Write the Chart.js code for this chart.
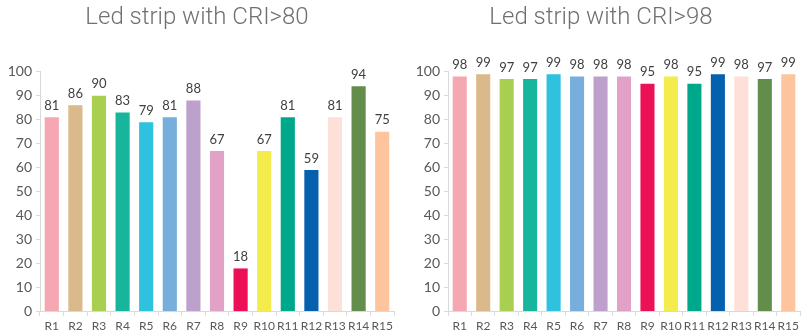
<!DOCTYPE html>
<html>
<head>
<meta charset="utf-8">
<script src="https://cdn.jsdelivr.net/npm/chart.js@4.4.1/dist/chart.umd.min.js"></script>
<style>
  html, body { margin: 0; padding: 0; background: #ffffff; }
  #wrap { position: relative; width: 802px; height: 333px; overflow: hidden; }
  canvas { position: absolute; top: 0; }
  #c1 { left: 0; }
  #c2 { left: 400px; }
</style>
</head>
<body>
<div id="wrap">
  <canvas id="c1" width="400" height="333"></canvas>
  <canvas id="c2" width="402" height="333"></canvas>
</div>
<script>
// Colour rendering index samples R1..R15
const categories = ['R1','R2','R3','R4','R5','R6','R7','R8','R9','R10','R11','R12','R13','R14','R15'];
const cri80Values = [81, 86, 90, 83, 79, 81, 88, 67, 18, 67, 81, 59, 81, 94, 75];
const cri98Values = [98, 99, 97, 97, 99, 98, 98, 98, 95, 98, 95, 99, 98, 97, 99];
const yTicks = [0, 10, 20, 30, 40, 50, 60, 70, 80, 90, 100];
const sampleColors = [
  '#F6A8B2', '#DAB98A', '#A8CF50', '#17B69C', '#2EC2DE',
  '#78AEDC', '#BDA0CB', '#E2A2C8', '#EC1156', '#F4EC4C',
  '#00A88B', '#0560AE', '#FDE0D7', '#628D4B', '#FEC49D'
];

const xTickFont = { family: 'Lato, "Open Sans", sans-serif', size: 12 };
const yTickFont = { family: 'Lato, "Open Sans", sans-serif', size: 14 };
const tickColor = '#595959';
const axisColor = '#d9d9d9';

// Writes each bar's value just above it
const valueLabels = {
  id: 'valueLabels',
  afterDatasetsDraw(chart) {
    const ctx = chart.ctx;
    const meta = chart.getDatasetMeta(0);
    const data = chart.data.datasets[0].data;
    ctx.save();
    ctx.font = '13px Lato, "Open Sans", sans-serif';
    ctx.fillStyle = '#404040';
    ctx.textAlign = 'center';
    ctx.textBaseline = 'bottom';
    meta.data.forEach((bar, i) => {
      ctx.fillText(String(data[i]), bar.x, bar.y - 5);
    });
    ctx.restore();
  }
};

function makeChart(id, title, values, axisWidth, rightPad) {
  return new Chart(document.getElementById(id), {
    type: 'bar',
    data: {
      labels: categories,
      datasets: [{
        data: values,
        backgroundColor: sampleColors,
        borderWidth: 0,
        barPercentage: 0.6,
        categoryPercentage: 1.0,
        clip: false
      }]
    },
    options: {
      responsive: false,
      animation: false,
      events: [],
      layout: { padding: { top: 0, right: rightPad, bottom: -3, left: 0 } },
      plugins: {
        legend: { display: false },
        tooltip: { enabled: false },
        title: {
          display: true,
          text: title,
          color: '#707070',
          font: { family: 'Roboto, "Liberation Sans", sans-serif', size: 24, weight: 300 },
          padding: { top: 4, bottom: 39 }
        }
      },
      scales: {
        x: {
          offset: true,
          grid: {
            offset: true,
            drawOnChartArea: false,
            drawTicks: true,
            tickLength: 4,
            color: axisColor
          },
          border: { display: true, color: axisColor, width: 1 },
          ticks: { color: tickColor, font: xTickFont, padding: 3, maxRotation: 0, autoSkip: false }
        },
        y: {
          min: 0,
          max: 100,
          afterBuildTicks(scale) {
            scale.ticks = yTicks.map(v => ({ value: v }));
          },
          afterFit(scale) { scale.width = axisWidth; },
          grid: {
            drawOnChartArea: false,
            drawTicks: true,
            tickLength: 4,
            color: axisColor
          },
          border: { display: true, color: axisColor, width: 1 },
          ticks: { color: tickColor, font: yTickFont, padding: 4 }
        }
      }
    },
    plugins: [valueLabels]
  });
}

makeChart('c1', 'Led strip with CRI>80', cri80Values, 40, 6);
makeChart('c2', 'Led strip with CRI>98', cri98Values, 48, 0);
</script>
</body>
</html>
